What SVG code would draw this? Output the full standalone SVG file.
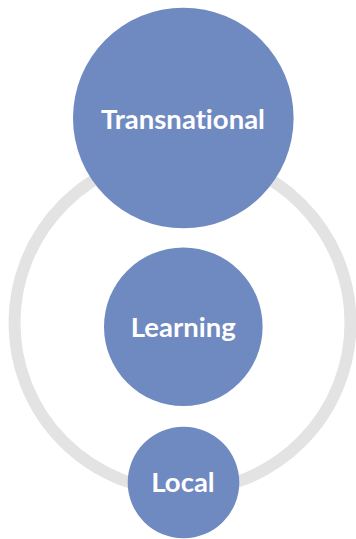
<svg xmlns="http://www.w3.org/2000/svg" width="356" height="539" viewBox="0 0 356 539">
<style>
.node{fill:#6F89C1;}
.lbl{fill:#FFFFFF;font-family:Lato,"Open Sans","Liberation Sans",sans-serif;font-weight:bold;text-anchor:middle;font-variant-ligatures:none;}
.ring{fill:none;stroke:#E3E3E3;stroke-width:12;}
</style>
<rect width="356" height="539" fill="#FFFFFF"/>
<g id="connectors">
<circle class="ring" cx="182.5" cy="323" r="168"/>
</g>
<g id="node-transnational">
<circle class="node" cx="183.3" cy="118" r="110.3"/>
<text class="lbl" x="183" y="128.5" font-size="27.5">Transnational</text>
</g>
<g id="node-learning">
<circle class="node" cx="183.3" cy="326.7" r="79.3"/>
<text class="lbl" x="183.3" y="336.7" font-size="27.5">Learning</text>
</g>
<g id="node-local">
<circle class="node" cx="183.5" cy="482.5" r="55.8"/>
<text class="lbl" x="183" y="492.3" font-size="27.5">Local</text>
</g>
</svg>
